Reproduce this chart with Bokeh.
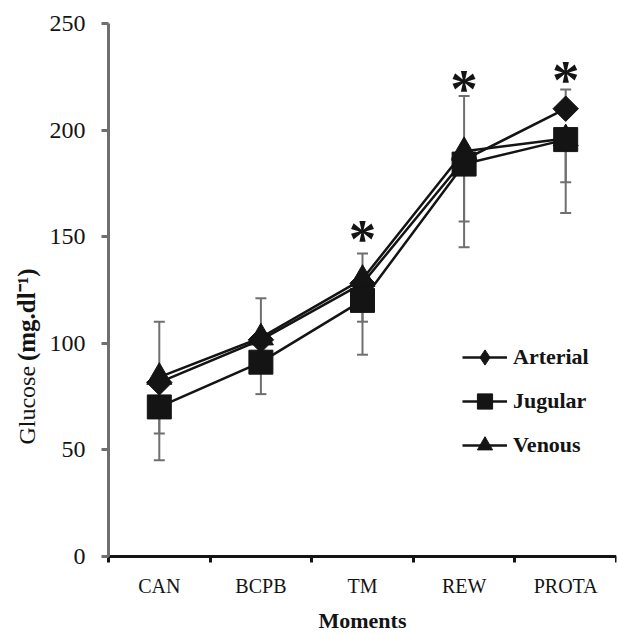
import math
from bokeh.plotting import figure
from bokeh.models import (Range1d, FixedTicker, Whisker, TeeHead, ColumnDataSource,
                          Legend, LegendItem, Label)
from bokeh.core.properties import value
from bokeh.embed import file_html
from bokeh.resources import INLINE

# ---- data ----
categories = ["CAN", "BCPB", "TM", "REW", "PROTA"]
arterial = [81.5, 101.5, 128, 186, 210]
jugular = [70, 91, 120, 184, 195.5]
venous = [84, 102.5, 130, 190, 196]
arterial_sd = [28.5, 19.5, 14, 30, 9]      # drawn upward
jugular_sd = [25, 15, 25.5, 39, 34.5]      # drawn downward
venous_sd = [26.5, 14, 20, 33, 20.5]       # drawn downward
star_categories = ["TM", "REW", "PROTA"]
star_values = [151.5, 222, 226]
y_ticks = [0, 50, 100, 150, 200, 250]

FONT = "Liberation Serif"
INK = "#141414"
GREY = "#6f6f6f"

n = len(categories)
xs = [i + 0.5 for i in range(n)]
pos = dict(zip(categories, xs))

# The frame fills the figure; both axes are pinned at 0 so that their labels
# and titles are drawn inside the frame.
p = figure(width=619, height=634, x_range=Range1d(-1.063, n), y_range=Range1d(-36.85, 260.8),
           output_backend="svg", toolbar_location=None,
           min_border_left=0, min_border_right=3, min_border_top=0, min_border_bottom=0)
p.outline_line_color = None
p.grid.visible = False
p.background_fill_color = "white"
p.border_fill_color = "white"

# x axis
xa = p.xaxis[0]
xa.fixed_location = 0
xa.bounds = (0, n)
xa.ticker = FixedTicker(ticks=xs, minor_ticks=list(range(n + 1)))
xa.major_label_overrides = {x: c for x, c in zip(xs, categories)}
xa.axis_line_color = INK
xa.axis_line_width = 3
xa.major_tick_line_color = None
xa.major_tick_out = 0
xa.major_tick_in = 0
xa.minor_tick_line_color = INK
xa.minor_tick_line_width = 3
xa.minor_tick_out = 6
xa.minor_tick_in = 0
xa.major_label_text_font = FONT
xa.major_label_text_font_size = "20px"
xa.major_label_text_color = INK
xa.major_label_standoff = 13
xa.axis_label = "Moments"
xa.axis_label_text_font = FONT
xa.axis_label_text_font_size = "22px"
xa.axis_label_text_font_style = "bold"
xa.axis_label_text_color = INK
xa.axis_label_standoff = 7

# y axis
ya = p.yaxis[0]
ya.fixed_location = 0
ya.bounds = (0, 250)
ya.ticker = FixedTicker(ticks=y_ticks)
ya.axis_line_color = GREY
ya.axis_line_width = 3
ya.major_tick_line_color = GREY
ya.major_tick_line_width = 3
ya.major_tick_out = 7
ya.major_tick_in = 0
ya.minor_tick_line_color = None
ya.major_label_text_font = FONT
ya.major_label_text_font_size = "24px"
ya.major_label_text_color = INK
ya.major_label_standoff = 16

# y axis title (mixed styles)
p.add_layout(Label(x=-0.807, y=52.3, text="Glucose", angle=math.pi / 2, text_align="left",
                   text_baseline="middle", text_font=FONT, text_font_size="24px", text_color=INK))
p.add_layout(Label(x=-0.807, y=91.5, text="(mg.dl\u207b\u00b9)", angle=math.pi / 2,
                   text_align="left", text_baseline="middle", text_font=FONT, text_font_size="25px",
                   text_font_style="bold", text_color=INK))

# error bars
def whisk(vals, sd, up):
    head = TeeHead(size=11, line_color=GREY, line_width=2)
    if up:
        src = ColumnDataSource(dict(x=xs, lo=vals, hi=[v + s for v, s in zip(vals, sd)]))
        w = Whisker(base="x", lower="lo", upper="hi", source=src, level="underlay",
                    line_color=GREY, line_width=2, upper_head=head, lower_head=None)
    else:
        src = ColumnDataSource(dict(x=xs, hi=vals, lo=[v - s for v, s in zip(vals, sd)]))
        w = Whisker(base="x", lower="lo", upper="hi", source=src, level="underlay",
                    line_color=GREY, line_width=2, lower_head=head, upper_head=None)
    p.add_layout(w)

whisk(arterial, arterial_sd, True)
whisk(jugular, jugular_sd, False)
whisk(venous, venous_sd, False)

# series
la = p.line(xs, arterial, line_color=INK, line_width=2.5)
# diamond swatch for the legend (sits hidden inside the rotated-square markers)
sa_key = p.scatter(xs, arterial, marker="diamond", size=18, fill_color=INK, line_color=INK)
sa = p.scatter(xs, arterial, marker="square", angle=math.pi / 4, size=18, fill_color=INK, line_color=INK)
lv = p.line(xs, venous, line_color=INK, line_width=2.5)
sv = p.scatter(xs, venous, marker="triangle", size=25, fill_color=INK, line_color=INK)
lj = p.line(xs, jugular, line_color=INK, line_width=2.5)
sj = p.scatter(xs, jugular, marker="square", size=24, fill_color=INK, line_color=INK)

# significance stars
p.text([pos[c] for c in star_categories], star_values, text=["*"] * len(star_categories),
       text_font=value(FONT), text_font_size="55px", text_font_style="bold",
       text_align="center", text_baseline="middle", y_offset=5, text_color=INK)

legend = Legend(items=[LegendItem(label="Arterial", renderers=[la, sa_key]),
                       LegendItem(label="Jugular", renderers=[lj, sj]),
                       LegendItem(label="Venous", renderers=[lv, sv])],
                location=(462, 170), padding=0, margin=0, spacing=6,
                glyph_width=45, glyph_height=38, label_height=38, label_standoff=6,
                border_line_color=None, background_fill_alpha=0,
                label_text_font=FONT, label_text_font_size="22px",
                label_text_font_style="bold", label_text_color=INK)
p.add_layout(legend)

open("out.html", "w").write(file_html(p, INLINE))
